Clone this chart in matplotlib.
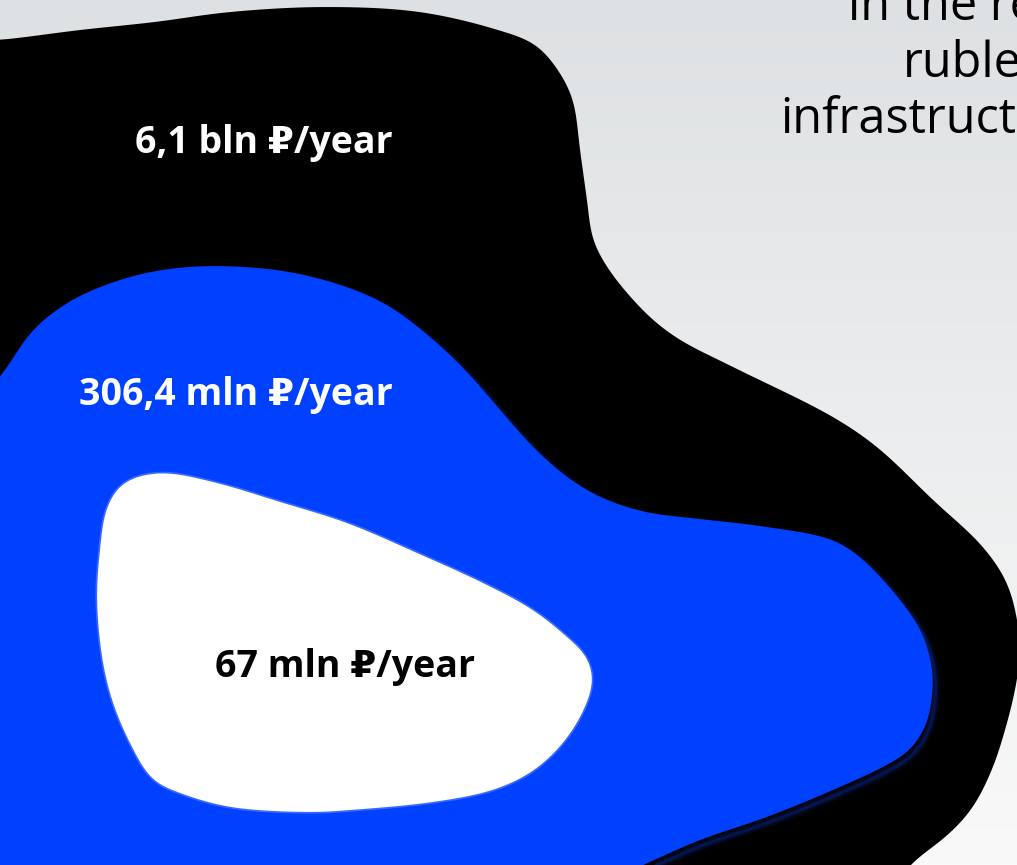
import numpy as np
import matplotlib.pyplot as plt
from matplotlib.patches import Polygon

# Подписи уровней (от внешнего к внутреннему)
labels = ['6,1 bln ₽/year', '306,4 mln ₽/year', '67 mln ₽/year']
label_colors = ['white', 'white', 'black']
label_xy = [(264, 143), (236, 395), (345, 667)]

# Текст в правом верхнем углу (обрезан краем)
side_lines = ['in the region', 'rubles', 'infrastructure']
side_x = [848, 903, 780]
side_y = [20, 77, 133]

# Контуры "пятен" в пикселях (x, y сверху вниз)
black_x = [-100, 0, 80, 155, 230, 325, 420, 498, 536, 560, 573, 580, 587, 593, 607, 627, 653,
           680, 733, 833, 877, 933, 983, 1007, 1018, 1020, 1015, 1007, 993, 973, 950, 910,
           870, -100]
black_y = [48, 40, 30, 22, 12, 7, 12, 30, 45, 73, 100, 150, 200, 240, 267, 293, 320,
           340, 367, 417, 447, 500, 547, 583, 625, 655, 690, 723, 767, 807, 833, 865,
           910, 910]

blue_x = [-60, 0, 33, 67, 100, 150, 213, 300, 380, 430, 467, 500, 533, 567, 600, 645, 700,
          767, 833, 860, 900, 923, 933, 932, 927, 910, 883, 833, 767, 700, 643, 560, -60]
blue_y = [445, 377, 330, 303, 287, 272, 266, 274, 301, 337, 372, 410, 447, 477, 497, 512, 519,
          527, 540, 557, 600, 635, 675, 697, 723, 750, 767, 790, 817, 840, 865, 901, 905]

white_x = [160, 213, 280, 347, 417, 483, 533, 567, 587, 593, 588, 577, 557, 530, 493, 433,
           350, 313, 230, 180, 153, 130, 113, 103, 97, 100, 107, 123]
white_y = [473, 482, 502, 523, 553, 583, 610, 637, 657, 680, 700, 723, 750, 773, 790, 802,
           810, 812, 807, 793, 780, 743, 703, 663, 600, 550, 507, 483]


def smooth_closed(xs, ys, n=30, sigma=5):
    # центростремительный сплайн Катмулла-Рома + лёгкое сглаживание
    pts = np.column_stack([xs, ys]).astype(float)
    m = len(pts)
    out = []
    for i in range(m):
        p0, p1, p2, p3 = pts[(i - 1) % m], pts[i], pts[(i + 1) % m], pts[(i + 2) % m]
        t0 = 0.0
        t1 = t0 + np.linalg.norm(p1 - p0) ** 0.5
        t2 = t1 + np.linalg.norm(p2 - p1) ** 0.5
        t3 = t2 + np.linalg.norm(p3 - p2) ** 0.5
        t = np.linspace(t1, t2, n, endpoint=False)[:, None]
        a1 = (t1 - t) / (t1 - t0) * p0 + (t - t0) / (t1 - t0) * p1
        a2 = (t2 - t) / (t2 - t1) * p1 + (t - t1) / (t2 - t1) * p2
        a3 = (t3 - t) / (t3 - t2) * p2 + (t - t2) / (t3 - t2) * p3
        b1 = (t2 - t) / (t2 - t0) * a1 + (t - t0) / (t2 - t0) * a2
        b2 = (t3 - t) / (t3 - t1) * a2 + (t - t1) / (t3 - t1) * a3
        out.append((t2 - t) / (t2 - t1) * b1 + (t - t1) / (t2 - t1) * b2)
    curve = np.vstack(out)
    # равномерная выборка по длине дуги
    closed = np.vstack([curve, curve[:1]])
    seg = np.hypot(*np.diff(closed, axis=0).T)
    s = np.concatenate([[0], np.cumsum(seg)])
    su = np.arange(0, s[-1], 2.0)
    res = np.column_stack([np.interp(su, s, closed[:, 0]), np.interp(su, s, closed[:, 1])])
    # циклическое гауссово сглаживание
    k = np.arange(-4 * sigma, 4 * sigma + 1)
    w = np.exp(-0.5 * (k / sigma) ** 2)
    w /= w.sum()
    sm = np.zeros_like(res)
    for kk, ww in zip(k, w):
        sm += ww * np.roll(res, kk, axis=0)
    return sm


W, H = 1017, 865
fig = plt.figure(figsize=(W / 100, H / 100), dpi=100)
ax = fig.add_axes([0, 0, 1, 1])
ax.set_xlim(0, W)
ax.set_ylim(H, 0)
ax.axis('off')

# Фон: вертикальный градиент
grad = np.linspace(0, 1, 256)[:, None, None]
bg = np.array([222, 225, 227]) / 255 * (1 - grad) + np.array([249, 249, 249]) / 255 * grad
ax.imshow(bg, extent=[0, W, H, 0], aspect='auto', zorder=0)

black_pts = smooth_closed(black_x, black_y)
blue_pts = smooth_closed(blue_x, blue_y)
white_pts = smooth_closed(white_x, white_y)

ax.add_patch(Polygon(black_pts, closed=True, fc='black', ec='none', zorder=1))

# мягкая тень под синим пятном (смещена вправо-вниз)
for lw, a in [(7, 0.12), (4, 0.2), (2, 0.3)]:
    ax.add_patch(Polygon(blue_pts + [3, 5], closed=True, fc='none', ec='#0a2a9e',
                         lw=lw, alpha=a, zorder=2))
ax.add_patch(Polygon(blue_pts, closed=True, fc='#0040ff', ec='none', zorder=2.5))

# светлое свечение вокруг белого пятна
ax.add_patch(Polygon(white_pts, closed=True, fc='none', ec='#7d9bff', lw=2.5, alpha=0.45, zorder=3))
ax.add_patch(Polygon(white_pts, closed=True, fc='white', ec='none', zorder=3.5))

fam = ['Open Sans', 'DejaVu Sans']
for txt, col, (x, y) in zip(labels, label_colors, label_xy):
    ax.text(x, y, txt, color=col, fontsize=27, fontweight='bold', family=fam,
            ha='center', va='center', zorder=5)

for txt, x, y in zip(side_lines, side_x, side_y):
    ax.text(x, y, txt, color='black', fontsize=35, family=fam,
            ha='left', va='baseline', zorder=5)

fig.savefig('out.png', dpi=100)
